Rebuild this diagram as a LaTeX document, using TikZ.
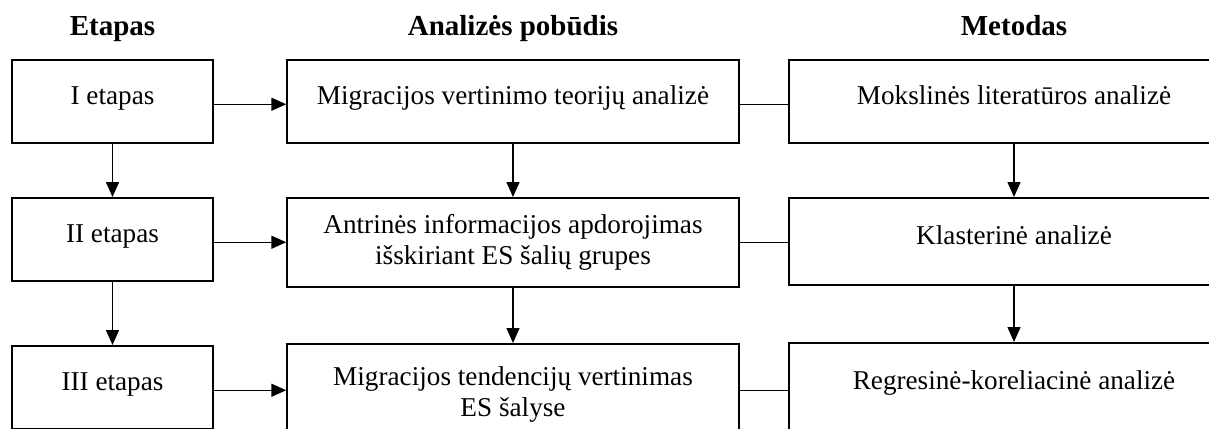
\documentclass[tikz,border=0pt]{standalone}
\usepackage{fontspec}
\setmainfont{Liberation Serif}
\usetikzlibrary{arrows.meta}

\def\headdist{36.25pt}

\begin{document}
\begin{tikzpicture}[x=0.5pt,y=-0.5pt,line width=0.75pt,>={Triangle[length=7.5pt,width=6.5pt]}]
    \tikzstyle{box} = [rectangle, draw, inner sep=0pt, align=center, font=\fontsize{13.6}{15.5}\selectfont]
    \tikzstyle{oneline} = [text height=9pt, text depth=5.5pt]
    \tikzstyle{stage} = [box, oneline, minimum width=100.5pt]
    \tikzstyle{kind} = [box, minimum width=226pt]
    \tikzstyle{method} = [box, oneline, minimum width=225pt]
    \tikzstyle{head} = [font=\fontsize{14.5}{17}\selectfont\bfseries, text height=10pt, text depth=3pt]

    \useasboundingbox (0,0) rectangle (1209,428);

    %%% DRAW THE NODES
    \foreach \name / \ytop / \txt in {1/59/I etapas, 2/197/II etapas, 3/345/III etapas}
        \node[stage, anchor=north, minimum height=41.5pt] (I-\name) at (112.5,\ytop) {\txt};
    \node[kind, oneline, anchor=north, minimum height=41.5pt] (A-1) at (513,59) {Migracijos vertinimo teorijų analizė};
    \foreach \name / \ytop / \boxht / \txt in {2/197/44.5pt/{Antrinės informacijos apdorojimas\\išskiriant ES šalių grupes},
            3/343/51pt/{Migracijos tendencijų vertinimas\\ES šalyse}}
        \node[kind, anchor=north, minimum height=\boxht] (A-\name) at (513,\ytop) {\txt};
    \foreach \name / \ytop / \boxht / \txt in {1/59/41.5pt/{Mokslinės literatūros analizė},
            2/197/43.5pt/{Klasterinė analizė},
            3/342/43.5pt/{Regresinė-koreliacinė analizė}}
        \node[method, anchor=north, minimum height=\boxht] (M-\name) at (1014,\ytop) {\txt};

    %%% DRAW THE PATHS
    \foreach \source / \dest in {1/2,2/3}
    {
        \draw[->] (I-\source) -- (I-\dest);
        \draw[->] (A-\source) -- (A-\dest);
        \draw[->] (M-\source) -- (M-\dest);
    }
    \foreach \row in {1,2,3}
    {
        \coordinate (r-\row) at ([yshift=-1.5pt]I-\row.east);
        \draw[->] (r-\row) -- (r-\row -| A-\row.west);
        \draw (r-\row -| A-\row.east) -- (r-\row -| M-\row.west);
    }

    %%% ANOTATE
    \node[head, above of=I-1, node distance=\headdist] (head-I) {Etapas};
    \node[head, above of=A-1, node distance=\headdist] (head-A) {Analizės pobūdis};
    \node[head, above of=M-1, node distance=\headdist] (head-M) {Metodas};
\end{tikzpicture}
\end{document}
